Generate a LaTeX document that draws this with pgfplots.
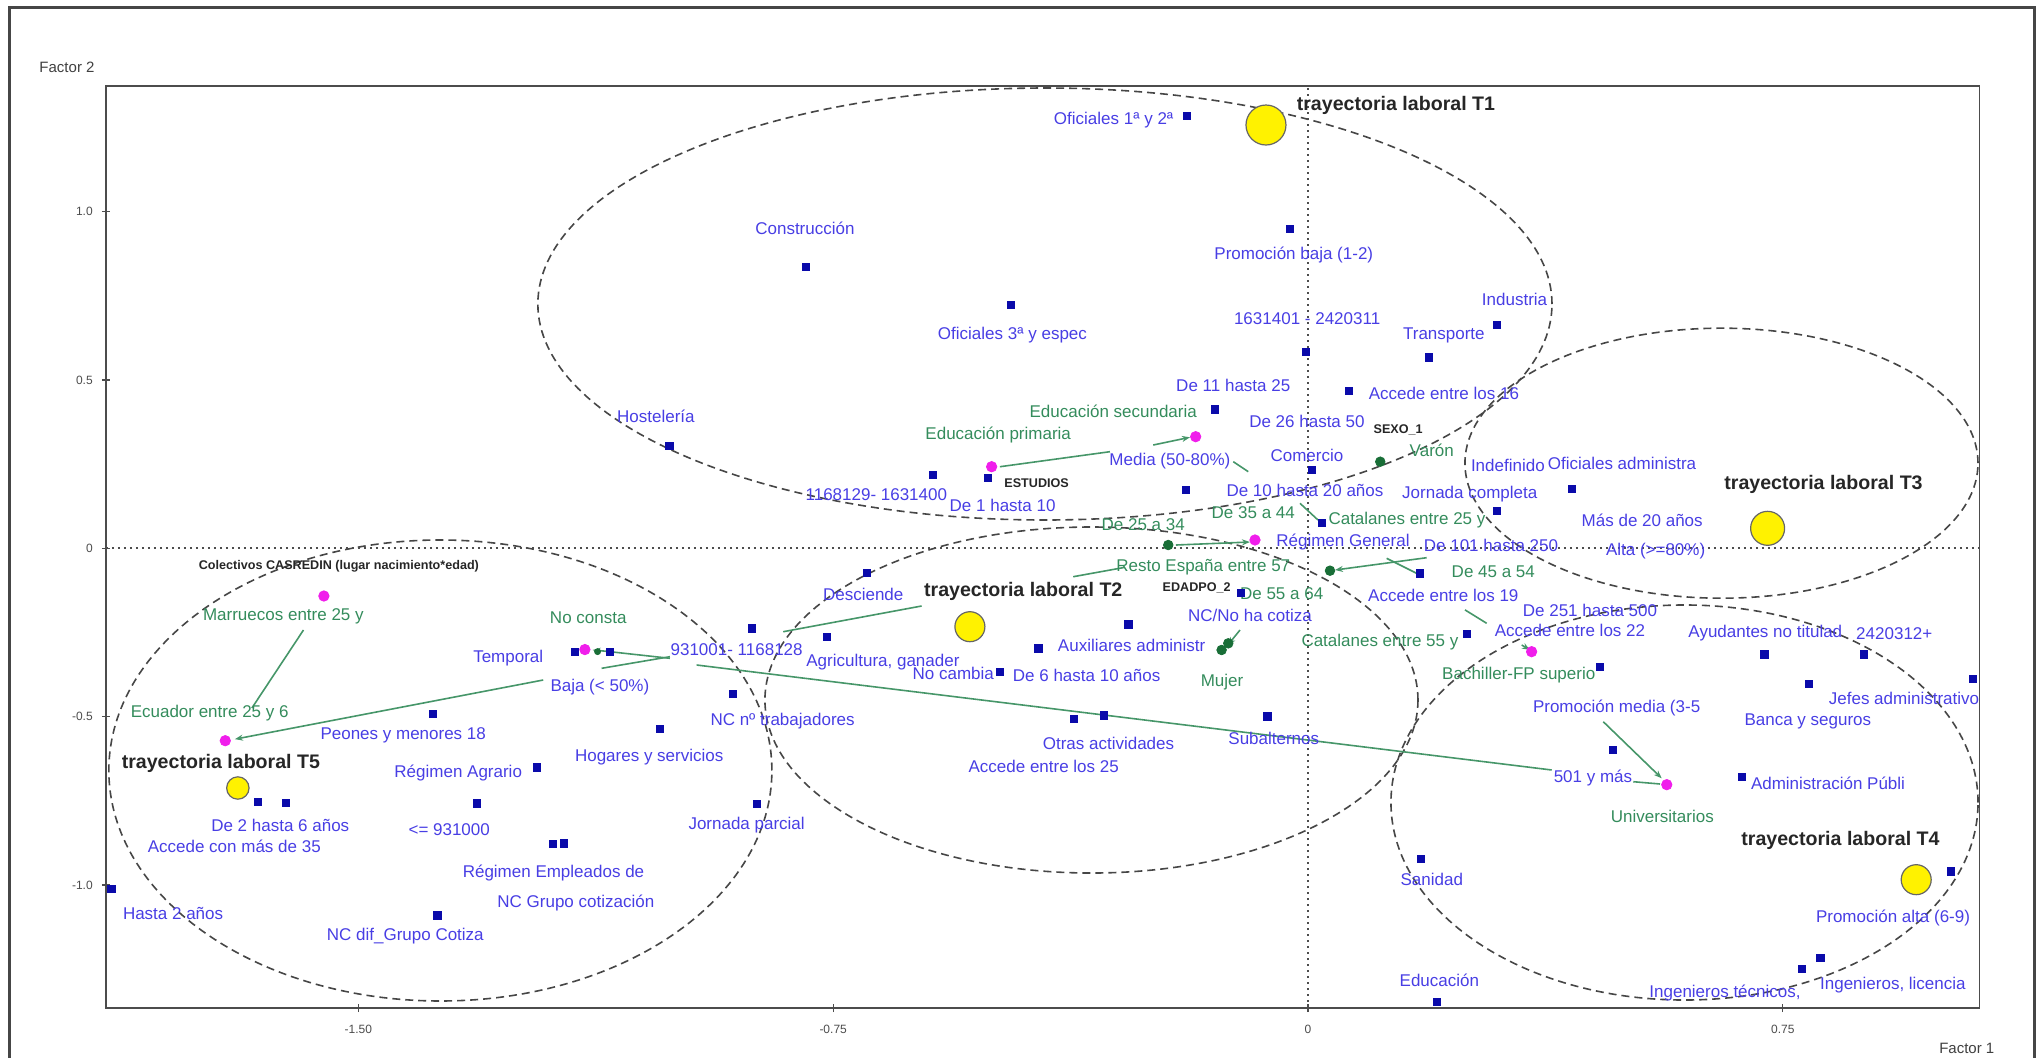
\documentclass[border=0pt]{standalone}
\usepackage{pgfplots}
\pgfplotsset{compat=1.18}
\usepackage{fontspec}
\setmainfont{Liberation Sans}
\usetikzlibrary{arrows.meta}
\definecolor{lblue}{RGB}{72,62,228}
\definecolor{sqblue}{RGB}{10,10,170}
\definecolor{lgreen}{RGB}{52,140,92}
\definecolor{lngreen}{RGB}{70,150,105}
\definecolor{dgreen}{RGB}{25,110,55}
\definecolor{mag}{RGB}{240,30,235}
\definecolor{frm}{RGB}{70,70,70}
\begin{document}
\begin{tikzpicture}[
  bl/.style={font=\fontsize{8.5}{9}\selectfont, text=lblue, inner sep=0pt},
  gl/.style={font=\fontsize{8.5}{9}\selectfont, text=lgreen, inner sep=0pt},
  tl/.style={font=\fontsize{9.8}{10}\selectfont\bfseries, text=black!85, inner sep=0pt},
  sl/.style={font=\fontsize{6.3}{7}\selectfont\bfseries, text=black!85, inner sep=0pt},
  ell/.style={dash pattern=on 4pt off 2.5pt, line width=0.8pt, draw=frm},
  gline/.style={lngreen, line width=0.8pt},
  garr/.style={lngreen, line width=0.8pt, -{Stealth[length=4pt,width=3pt]}}
]
\useasboundingbox (0pt,0pt) rectangle (1021pt,-529pt);
\draw[frm, line width=1.5pt] (4.5pt,-540pt) -- (4.5pt,-4pt) -- (1017pt,-4pt) -- (1017pt,-540pt);
\node[font=\fontsize{7.5}{8}\selectfont, text=black!75] at (33.5pt,-33.5pt) {Factor 2};
\node[font=\fontsize{7.5}{8}\selectfont, text=black!75] at (983.4pt,-524pt) {Factor 1};
\begin{axis}[
  at={(52.9pt,-504pt)}, anchor=south west,
  scale only axis, width=936.75pt, height=461pt,
  xmin=-1.899, xmax=1.0605, ymin=-1.3657, ymax=1.3735,
  clip=false,
  axis line style={black!70, line width=0.8pt},
  xtick={-1.5,-0.75,0,0.75}, xticklabels={-1.50,-0.75,0,0.75},
  ytick={-1,-0.5,0,0.5,1}, yticklabels={-1.0,-0.5,0,0.5,1.0},
  tick pos=left, tick align=center, major tick length=4pt,
  tick style={black!70, line width=0.6pt},
  ticklabel style={font=\fontsize{6}{7}\selectfont, text=black!70},
  xticklabel style={yshift=-3pt},
  yticklabel style={xshift=-1pt},
]
% ellipses
\draw[ell] (axis cs:-0.4155,0.7258) ellipse [x radius=0.801, y radius=0.6417];
\draw[ell] (axis cs:-0.342,-0.4507) ellipse [x radius=0.5158, y radius=0.514];
\draw[ell] (axis cs:0.6532,0.2529) ellipse [x radius=0.4052, y radius=0.4011];
\draw[ell] (axis cs:0.5948,-0.7552) ellipse [x radius=0.4637, y radius=0.5868];
\draw[ell] (axis cs:-1.3705,-0.6601) ellipse [x radius=0.5237, y radius=0.6848];
% dotted zero lines
\addplot[black!70, line width=1pt, dash pattern=on 1.2pt off 1.8pt] coordinates {(0,-1.3657) (0,1.3735)};
\addplot[black!70, line width=1pt, dash pattern=on 1.2pt off 1.8pt] coordinates {(-1.899,0) (1.0605,0)};
% green connectors
\addplot[gline] coordinates {(-0.9657,-0.3467) (0.385,-0.6586)};
\addplot[gline] coordinates {(-1.1027,-0.3072) (-1.0079,-0.3268)};
\addplot[gline] coordinates {(-1.1158,-0.3565) (-1.0079,-0.322)};
\addplot[gline] coordinates {(-0.8289,-0.2478) (-0.6103,-0.1714)};
\addplot[garr] coordinates {(-1.2081,-0.3913) (-1.695,-0.567)};
\addplot[gline] coordinates {(-1.5867,-0.2427) (-1.6682,-0.4745)};
\addplot[garr] coordinates {(0.4665,-0.5152) (0.5588,-0.6833)};
\addplot[gline] coordinates {(0.5139,-0.6934) (0.5561,-0.7002)};
\addplot[gline] coordinates {(-0.4866,0.2424) (-0.3128,0.287)};
\addplot[garr] coordinates {(-0.2444,0.3069) (-0.1864,0.3298)};
\addplot[gline] coordinates {(-0.118,0.2573) (-0.0943,0.2276)};
\addplot[gline] coordinates {(-0.0126,0.1337) (0.0158,0.0841)};
\addplot[garr] coordinates {(-0.2085,0.0098) (-0.0916,0.0187)};
\addplot[gline] coordinates {(-0.3708,-0.0844) (-0.2891,-0.0565)};
\addplot[garr] coordinates {(0.1875,-0.0279) (0.0427,-0.0645)};
\addplot[gline] coordinates {(0.1243,-0.0297) (0.1769,-0.0793)};
\addplot[gline] coordinates {(0.248,-0.1829) (0.2823,-0.2228)};
\addplot[garr] coordinates {(-0.1074,-0.2427) (-0.1264,-0.2873)};
\addplot[garr] coordinates {(0.3376,-0.2873) (0.3507,-0.3021)};
\addplot[garr] coordinates {(-1.1027,-0.307) (-1.13,-0.302)};
% blue squares
\addplot[only marks, mark=square*, mark size=1.8pt, color=sqblue] coordinates {
(-0.1917,1.284) (-0.7926,0.8366) (-0.028,0.9486) (-0.4687,0.7228) (-0.0032,0.584)
(0.2981,0.6634) (0.1905,0.5674) (0.0648,0.4682) (-0.1472,0.4129) (-1.0086,0.3039)
(0.0058,0.2326) (0.4163,0.1762) (0.2981,0.1117) (-0.5919,0.2178) (-0.505,0.208)
(-0.1932,0.1732) (0.0216,0.076) (0.1765,-0.0743) (0.2507,-0.2546) (0.4613,-0.3517)
(0.721,-0.315) (0.878,-0.315) (0.7919,-0.404) (1.05,-0.389) (0.482,-0.5983)
(0.6856,-0.6794) (1.0159,-0.9596) (0.8095,-1.2172) (0.7804,-1.2499) (0.1778,-0.9221)
(0.2041,-1.348) (-0.6972,-0.0725) (-0.1064,-0.1318) (-0.2838,-0.2258) (-0.4259,-0.2971)
(-0.7594,-0.2626) (-0.4866,-0.3666) (-0.8788,-0.2377) (-0.9089,-0.4329) (-0.37,-0.5062)
(-0.3221,-0.4962) (-0.064,-0.4991) (-1.158,-0.307) (-1.1027,-0.307) (-1.3818,-0.4923)
(-1.0237,-0.5377) (-1.2185,-0.6506) (-1.3133,-0.7576) (-1.1932,-0.8785) (-1.1748,-0.8765)
(-0.8709,-0.7605) (-1.6588,-0.7537) (-1.6142,-0.7567) (-1.8901,-1.0113) (-1.3752,-1.0903)
};
% magenta dots
\addplot[only marks, mark=*, mark size=2.6pt, color=mag] coordinates {
(-0.1774,0.3316) (-0.4997,0.2424) (-0.0837,0.0247) (0.3533,-0.3071) (0.5668,-0.7022)
(-1.1422,-0.3008) (-1.5545,-0.1417) (-1.7103,-0.5716)
};
% green dots
\addplot[only marks, mark=*, mark size=2.4pt, color=dgreen] coordinates {
(0.1142,0.2573) (-0.2207,0.0098) (0.0348,-0.0665) (-0.1364,-0.3021) (-0.1259,-0.2823)
};
\addplot[only marks, mark=*, mark size=1.5pt, color=dgreen] coordinates {(-1.1222,-0.307)};
% trajectory circles
\addplot[only marks, mark=*, mark size=10pt, mark options={fill=yellow, draw=black!60, line width=0.6pt}] coordinates {(-0.0663,1.2576)};
\addplot[only marks, mark=*, mark size=7.5pt, mark options={fill=yellow, draw=black!60, line width=0.6pt}] coordinates {(-0.534,-0.2329)};
\addplot[only marks, mark=*, mark size=8.5pt, mark options={fill=yellow, draw=black!60, line width=0.6pt}] coordinates {(0.7261,0.0594)};
\addplot[only marks, mark=*, mark size=7.5pt, mark options={fill=yellow, draw=black!60, line width=0.6pt}] coordinates {(0.9608,-0.9845)};
\addplot[only marks, mark=*, mark size=5.6pt, mark options={fill=yellow, draw=black!60, line width=0.6pt}] coordinates {(-1.6904,-0.7121)};
% blue labels
\node[bl] at (axis cs:-0.307,1.272) {Oficiales 1ª y 2ª};
\node[bl] at (axis cs:-0.7946,0.951) {Construcción};
\node[bl] at (axis cs:-0.0224,0.8714) {Promoción baja (1-2)};
\node[bl] at (axis cs:-0.4668,0.6337) {Oficiales 3ª y espec};
\node[bl] at (axis cs:-0.0013,0.6833) {1631401 - 2420311};
\node[bl] at (axis cs:0.3264,0.7397) {Industria};
\node[bl] at (axis cs:0.2147,0.6337) {Transporte};
\node[bl] at (axis cs:0.2147,0.4605) {Accede entre los 16};
\node[bl] at (axis cs:-0.118,0.4851) {De 11 hasta 25};
\node[bl] at (axis cs:-0.0016,0.3762) {De 26 hasta 50};
\node[bl] at (axis cs:-1.03,0.393) {Hostelería};
\node[bl] at (axis cs:-0.218,0.2604) {Media (50-80\%)};
\node[bl] at (axis cs:-0.0016,0.2773) {Comercio};
\node[bl] at (axis cs:0.3158,0.2475) {Indefinido};
\node[bl] at (axis cs:0.4961,0.2525) {Oficiales administra};
\node[bl] at (axis cs:0.2556,0.1613) {Jornada completa};
\node[bl] at (axis cs:0.528,0.084) {Más de 20 años};
\node[bl] at (axis cs:0.5492,-0.0071) {Alta (>=80\%)};
\node[bl] at (axis cs:-0.0047,0.1732) {De 10 hasta 20 años};
\node[bl] at (axis cs:-0.6818,0.1583) {1168129- 1631400};
\node[bl] at (axis cs:-0.4823,0.1286) {De 1 hasta 10};
\node[bl] at (axis cs:0.0553,0.0196) {Régimen General};
\node[bl] at (axis cs:0.2891,0.0098) {De 101 hasta 250};
\node[bl] at (axis cs:0.2138,-0.1387) {Accede entre los 19};
\node[bl] at (axis cs:0.4455,-0.1853) {De 251 hasta 500};
\node[bl] at (axis cs:0.4139,-0.2447) {Accede entre los 22};
\node[bl] at (axis cs:0.7225,-0.2507) {Ayudantes no titulad};
\node[bl] at (axis cs:0.9262,-0.2526) {2420312+};
\node[bl] at (axis cs:0.9415,-0.445) {Jefes administrativo};
\node[bl] at (axis cs:0.7897,-0.514) {Banca y seguros};
\node[bl] at (axis cs:0.4876,-0.4753) {Promoción media (3-5};
\node[bl] at (axis cs:0.4502,-0.6824) {501 y más};
\node[bl] at (axis cs:0.8215,-0.6973) {Administración Públi};
\node[bl] at (axis cs:0.9242,-1.0983) {Promoción alta (6-9)};
\node[bl] at (axis cs:0.6588,-1.3211) {Ingenieros técnicos,};
\node[bl] at (axis cs:0.924,-1.2983) {Ingenieros, licencia};
\node[bl] at (axis cs:0.1956,-0.9845) {Sanidad};
\node[bl] at (axis cs:0.2076,-1.2845) {Educación};
\node[bl] at (axis cs:-0.7025,-0.1367) {Desciende};
\node[bl] at (axis cs:-0.6714,-0.3369) {Agricultura, ganader};
\node[bl] at (axis cs:-0.5603,-0.3714) {No cambia};
\node[bl] at (axis cs:-0.3496,-0.3764) {De 6 hasta 10 años};
\node[bl] at (axis cs:-0.2785,-0.2873) {Auxiliares administr};
\node[bl] at (axis cs:-0.0916,-0.1982) {NC/No ha cotiza};
\node[bl] at (axis cs:-0.3151,-0.5784) {Otras actividades};
\node[bl] at (axis cs:-0.4174,-0.6477) {Accede entre los 25};
\node[bl] at (axis cs:-0.054,-0.5636) {Subalternos};
\node[bl] at (axis cs:-0.9025,-0.3021) {931001- 1168128};
\node[bl] at (axis cs:-0.8299,-0.514) {NC nº trabajadores};
\node[bl] at (axis cs:-1.2633,-0.3268) {Temporal};
\node[bl] at (axis cs:-1.1185,-0.4111) {Baja (< 50\%)};
\node[bl] at (axis cs:-1.4292,-0.5547) {Peones y menores 18};
\node[bl] at (axis cs:-1.0406,-0.6191) {Hogares y servicios};
\node[bl] at (axis cs:-1.3423,-0.6685) {Régimen Agrario};
\node[bl] at (axis cs:-1.3565,-0.8369) {<= 931000};
\node[bl] at (axis cs:-1.1918,-0.9647) {Régimen Empleados de};
\node[bl] at (axis cs:-1.1565,-1.0538) {NC Grupo cotización};
\node[bl] at (axis cs:-1.4259,-1.1527) {NC dif\_Grupo Cotiza};
\node[bl] at (axis cs:-0.8867,-0.822) {Jornada parcial};
\node[bl] at (axis cs:-1.6234,-0.823) {De 2 hasta 6 años};
\node[bl] at (axis cs:-1.696,-0.8853) {Accede con más de 35};
\node[bl] at (axis cs:-1.7927,-1.0835) {Hasta 2 años};
% green labels
\node[gl] at (axis cs:-0.3076,0.4059) {Educación secundaria};
\node[gl] at (axis cs:-0.4893,0.3366) {Educación primaria};
\node[gl] at (axis cs:0.1956,0.292) {Varón};
\node[gl] at (axis cs:-0.0864,0.1058) {De 35 a 44};
\node[gl] at (axis cs:-0.2602,0.0692) {De 25 a 34};
\node[gl] at (axis cs:0.1564,0.0846) {Catalanes entre 25 y};
\node[gl] at (axis cs:-0.1654,-0.0565) {Resto España entre 57};
\node[gl] at (axis cs:-0.0415,-0.1337) {De 55 a 64};
\node[gl] at (axis cs:0.2928,-0.0695) {De 45 a 54};
\node[gl] at (axis cs:0.1137,-0.2774) {Catalanes entre 55 y};
\node[gl] at (axis cs:0.333,-0.3764) {Bachiller-FP superio};
\node[gl] at (axis cs:0.5597,-0.7962) {Universitarios};
\node[gl] at (axis cs:-0.1357,-0.3963) {Mujer};
\node[gl] at (axis cs:-1.1369,-0.205) {No consta};
\node[gl] at (axis cs:-1.6185,-0.2032) {Marruecos entre 25 y};
\node[gl] at (axis cs:-1.7349,-0.4893) {Ecuador entre 25 y 6};
% black labels
\node[tl] at (axis cs:0.139,1.317) {trayectoria laboral T1};
\node[tl] at (axis cs:-0.4497,-0.1289) {trayectoria laboral T2};
\node[tl] at (axis cs:0.8144,0.191) {trayectoria laboral T3};
\node[tl] at (axis cs:0.8412,-0.8686) {trayectoria laboral T4};
\node[tl] at (axis cs:-1.7172,-0.6379) {trayectoria laboral T5};
\node[sl] at (axis cs:-0.4286,0.1949) {ESTUDIOS};
\node[sl] at (axis cs:0.1425,0.3515) {SEXO\_1};
\node[sl] at (axis cs:-0.1758,-0.1188) {EDADPO\_2};
\node[sl] at (axis cs:-1.5308,-0.0547) {Colectivos CASREDIN (lugar nacimiento*edad)};
\end{axis}
\end{tikzpicture}
\end{document}
